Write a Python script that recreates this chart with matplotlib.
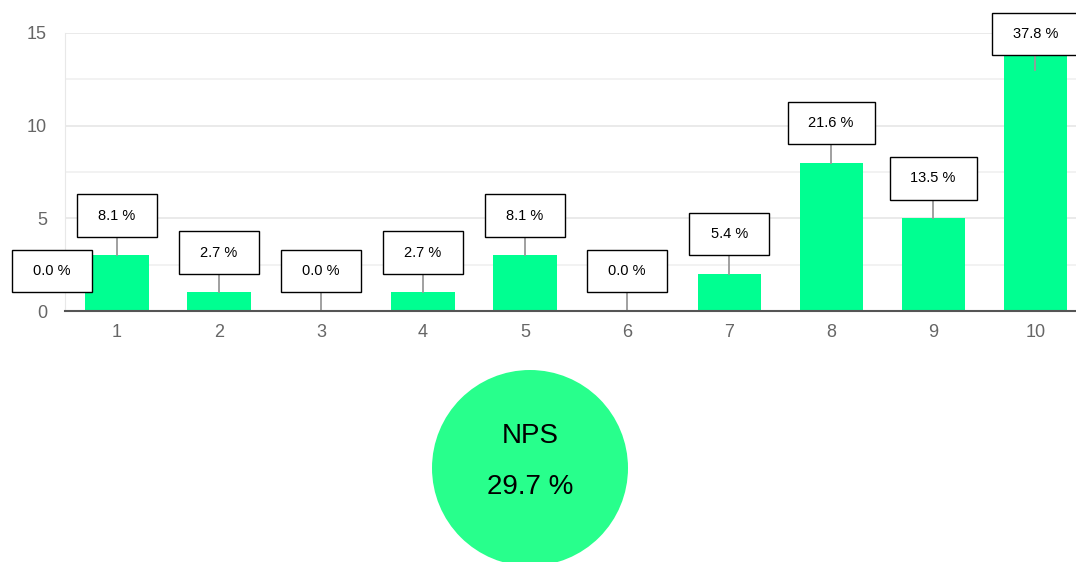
import matplotlib.pyplot as plt
from matplotlib.patches import Rectangle, Circle

# NPS survey answers: score -> number of answers
scores = [0, 1, 2, 3, 4, 5, 6, 7, 8, 9, 10]
counts = [0, 3, 1, 0, 1, 3, 0, 2, 8, 5, 14]
yticks = [0, 5, 10, 15]

plt.rcParams['font.family'] = ['Liberation Sans', 'DejaVu Sans']

total = sum(counts)
shares = [100 * c / total for c in counts]
promoters = sum(c for s, c in zip(scores, counts) if s >= 9)
detractors = sum(c for s, c in zip(scores, counts) if s <= 6)
nps = 100 * (promoters - detractors) / total

fig = plt.figure(figsize=(10.76, 5.62), dpi=100)
ax = fig.add_axes([0.0604, 0.4466, 0.9396, 0.4947])

bar_scores = [s for s in scores if s >= 1]
bar_counts = [c for s, c in zip(scores, counts) if s >= 1]
ax.bar(bar_scores, bar_counts, width=0.62, color='#00ff91', zorder=2)

ax.set_xlim(0.49, 10.40)
ax.set_ylim(0, 15)
ax.set_xticks(bar_scores)
ax.set_yticks(yticks)
ax.set_yticks([2.5, 7.5, 12.5], minor=True)
ax.grid(axis='y', which='major', color='#e8e8e8', lw=1.3, zorder=0)
ax.grid(axis='y', which='minor', color='#f1f1f1', lw=1.3, zorder=0)
ax.tick_params(axis='both', which='both', length=0, labelsize=13, colors='#666666')
ax.tick_params(axis='y', pad=13)
ax.tick_params(axis='x', pad=9)
for side in ['top', 'right']:
    ax.spines[side].set_visible(False)
ax.spines['left'].set_color('#e8e8e8')
ax.spines['bottom'].set_color('#555555')
ax.spines['bottom'].set_linewidth(1.5)
ax.spines['bottom'].set_zorder(3)

# percentage labels in boxes above the bars
box_h = 2.3
top_limit = 16.1
for s, c, p in zip(scores, counts, shares):
    txt = f'{p:.1f} %'
    w = 0.85 if p >= 10 else 0.78
    lx = max(s, 0.36)
    ybot = c + 1.0
    if ybot + box_h > top_limit:
        ybot = top_limit - box_h
        ax.plot([s, s], [ybot - 0.8, ybot], color='#999999', lw=1.3, zorder=3)
    else:
        ax.plot([s, s], [c, c + 1.0], color='#999999', lw=1.3, zorder=3)
    ax.add_patch(Rectangle((lx - w / 2, ybot), w, box_h, facecolor='white',
                           edgecolor='black', lw=1, clip_on=False, zorder=4))
    ax.text(lx, ybot + box_h / 2, txt, ha='center', va='center', fontsize=10.5,
            color='black', clip_on=False, zorder=5)

# NPS circle
cax = fig.add_axes([0, 0, 1, 1], facecolor='none')
cax.set_xlim(0, 1076)
cax.set_ylim(562, 0)
cax.axis('off')
cax.add_patch(Circle((530, 468), 98, facecolor='#28ff8c', edgecolor='none'))
cax.text(530, 436, 'NPS', ha='center', va='center', fontsize=20, color='black')
cax.text(530, 487, f'{nps:.1f} %', ha='center', va='center', fontsize=20, color='black')

fig.savefig('out.png', dpi=100)
